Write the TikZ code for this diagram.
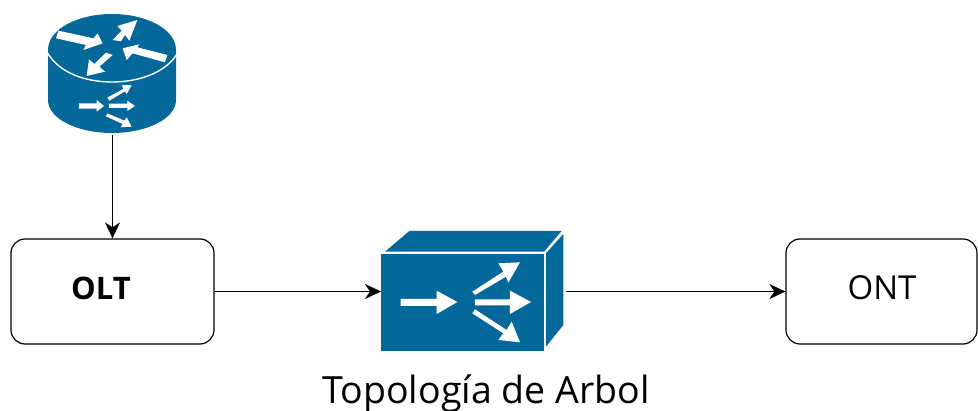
\documentclass[tikz,border=0pt]{standalone}
\usepackage{fontspec}
\setmainfont{Open Sans}
\usetikzlibrary{arrows.meta}
\definecolor{ciscoblue}{HTML}{04689B}
\tikzset{
  box/.style={draw=black,line width=1.2pt,rounded corners=14pt,inner sep=0pt,fill=white},
  conn/.style={draw=black,line width=1.7pt,-{Stealth[length=16pt,width=15pt,inset=5pt]}},
  ghost/.style={inner sep=0pt,outer sep=0pt},
  blue/.style={fill=ciscoblue},
  wht/.style={fill=white},
  lbl/.style={inner sep=0pt,text=black}
}
\begin{document}
\begin{tikzpicture}[x=1pt,y=-1pt]
\useasboundingbox (0,0) rectangle (978,411);
% router
\fill[blue] (48,50) .. controls (48,29) and (78,14) .. (112,14) .. controls (146,14) and (176,29) .. (176,50)
  -- (176,100) .. controls (176,119) and (146,133) .. (112,133) .. controls (78,133) and (48,119) .. (48,100) -- cycle;
\draw[white,line width=1.4pt] (47,52) .. controls (58,72) and (84,82) .. (112,82) .. controls (140,82) and (166,72) .. (177,54);
\begin{scope}[shift={(30,0)},x=0.3333pt,y=-0.3333pt]
\fill[wht] (85,92)--(190,115)--(203,100)--(218,130)--(160,150)--(168,135)--(78,115)--cycle;
\fill[wht] (248,120)--(275,92)--(262,78)--(322,60)--(298,122)--(285,105)--(273,124)--cycle;
\fill[wht] (412,165)--(322,142)--(328,133)--(278,145)--(290,180)--(308,160)--(405,187)--cycle;
\fill[wht] (228,158)--(193,192)--(177,178)--(170,228)--(225,215)--(208,200)--(248,165)--cycle;
\fill[wht] (147,310)--(200,310)--(200,300)--(222,318)--(200,335)--(200,326)--(147,326)--cycle;
\fill[wht] (237,311)--(292,311)--(292,302)--(315,318)--(292,333)--(292,324)--(237,324)--cycle;
\fill[wht] (232,293)--(280,267)--(275,255)--(305,256)--(290,282)--(285,274)--(238,302)--cycle;
\fill[wht] (232,340)--(283,362)--(290,352)--(305,380)--(272,382)--(278,372)--(228,349)--cycle;
\end{scope}
\node[ghost,minimum width=128pt,minimum height=121pt] (router) at (112.5,74.5) {};
% splitter
\begin{scope}[shift={(360,220)},x=0.3333pt,y=-0.3333pt]
\fill[blue] (63,103) rectangle (552,393);
\fill[blue] (75,95)--(148,33)--(605,33)--(552,95)--cycle;
\fill[blue] (558,100)--(610,42)--(610,315)--(558,380)--cycle;
\fill[wht] (122,237)--(230,237)--(230,212)--(292,246)--(230,282)--(230,258)--(122,258)--cycle;
\fill[wht] (345,238)--(450,238)--(450,212)--(513,246)--(450,282)--(450,256)--(345,256)--cycle;
\fill[wht] (337,215)--(430,155)--(415,130)--(480,127)--(445,188)--(438,170)--(345,225)--cycle;
\fill[wht] (337,280)--(345,268)--(440,330)--(455,305)--(480,367)--(415,360)--(430,340)--cycle;
\end{scope}
\node[ghost,minimum width=185pt,minimum height=120pt] (splitter) at (473.5,291.5) {};
% boxes
\node[box,minimum width=203pt,minimum height=105pt] (olt) at (112.5,291.5) {};
\node[box,minimum width=191pt,minimum height=105pt] (ont) at (881.5,291.5) {};
\node[lbl,font=\bfseries\fontsize{31}{36}\selectfont] (oltlabel) at (101,288) {OLT};
\node[lbl,font=\fontsize{33}{38}\selectfont] (ontlabel) at (882,288) {ONT};
\node[lbl,font=\fontsize{37.5}{44}\selectfont] (caption) at (486,394) {Topología de Arbol};
% connectors
\draw[conn] (router.south) -- (olt.north);
\draw[conn] (olt.east) -- (splitter.west);
\draw[conn] (splitter.east) -- (ont.west);
\end{tikzpicture}
\end{document}
